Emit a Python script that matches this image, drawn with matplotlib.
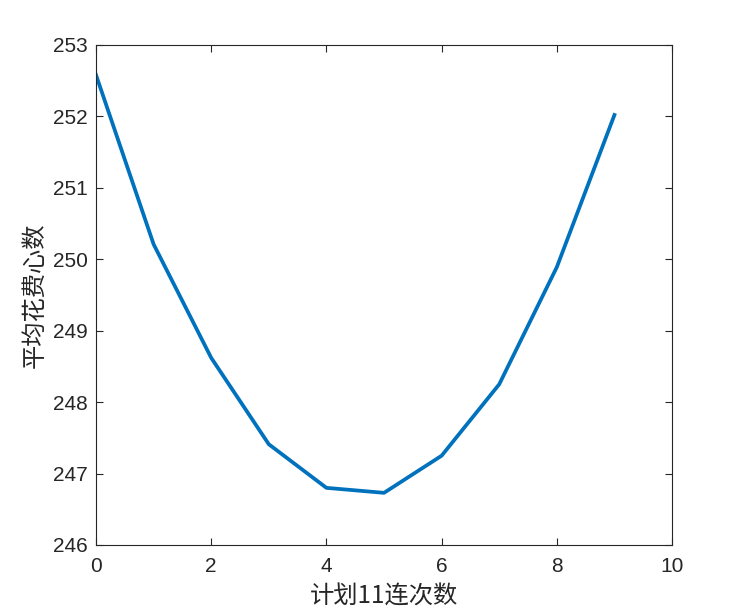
import matplotlib
matplotlib.use("Agg")
import matplotlib.pyplot as plt

plt.rcParams['font.family'] = ['Liberation Sans', 'Noto Sans CJK SC', 'DejaVu Sans']

runs = [0, 1, 2, 3, 4, 5, 6, 7, 8, 9]
avg_cost = [252.58, 250.21, 248.62, 247.41, 246.80, 246.73, 247.25, 248.25, 249.89, 252.02]


def main():
    fig = plt.figure(figsize=(7.42, 6.12), dpi=100)
    ax = fig.add_axes([0.1294, 0.1095, 0.7763, 0.817])
    ax.plot(runs, avg_cost, color='#0072BD', linewidth=2.7)

    ax.set_xlim(0, 10)
    ax.set_ylim(246, 253)
    ax.set_xticks([0, 2, 4, 6, 8, 10])
    ax.set_yticks(range(246, 254))
    ax.tick_params(direction='in', top=True, right=True, labelsize=15,
                   length=5, width=0.8, colors='#262626', pad=6)
    ax.tick_params(axis='x', pad=9)
    for s in ax.spines.values():
        s.set_linewidth(0.8)
        s.set_color('#262626')

    ax.set_xlabel('计划11连次数', fontsize=17.5, color='#262626', labelpad=5,
                  family=['Noto Sans CJK SC', 'DejaVu Sans'])
    ax.set_ylabel('平均花费心数', fontsize=17.5, color='#262626', labelpad=4,
                  family=['Noto Sans CJK SC', 'DejaVu Sans'])

    fig.savefig('out.png', dpi=100)


if __name__ == "__main__":
    main()
